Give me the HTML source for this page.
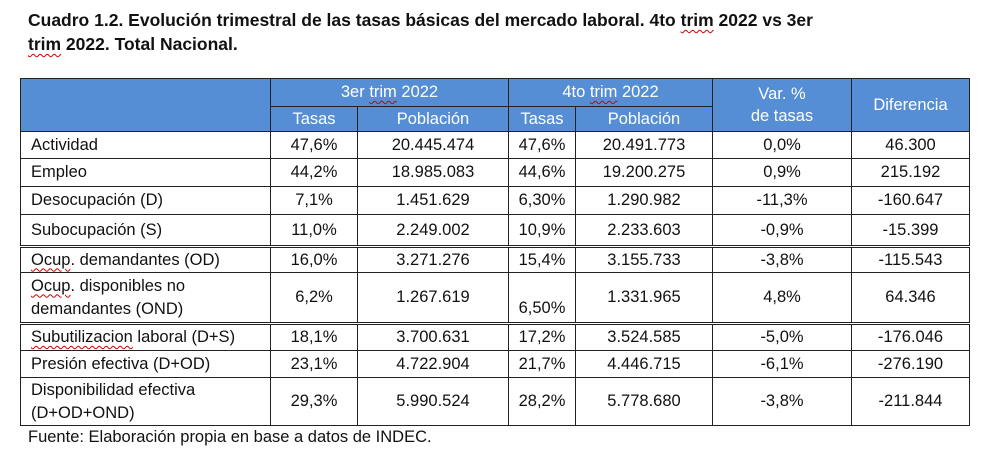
<!DOCTYPE html>
<html><head><meta charset="utf-8"><style>
body{margin:0;width:1000px;height:456px;background:#fff;font-family:"Liberation Sans",sans-serif;position:relative;overflow:hidden;color:#111}
.t{position:absolute;left:28px;font-weight:bold;font-size:17.5px;line-height:24px;top:8px;width:960px}
.w{text-decoration:underline wavy #c00;text-decoration-thickness:1px;text-underline-offset:3px}
table{position:absolute;left:20px;top:78px;border-collapse:collapse;font-size:16.5px;table-layout:fixed}
td{border:1px solid #222;text-align:center;padding:0;vertical-align:middle;white-space:nowrap}
td.l{text-align:left;padding-left:10px}
.h td{background:#558ed5;color:#fff;border-color:#222}
.dash{border-left:1px dashed #999}
.dbl td{border-bottom:3px double #222}
.f{position:absolute;left:28px;top:428px;font-size:16.5px}
</style></head><body>
<div class="t">Cuadro 1.2. Evolución trimestral de las tasas básicas del mercado laboral. 4to <span class="w">trim</span> 2022 vs 3er<br><span class="w">trim</span> 2022. Total Nacional.</div>
<table>
<colgroup><col style="width:250px"><col style="width:87px"><col style="width:151px"><col style="width:67px"><col style="width:137px"><col style="width:139px"><col style="width:118px"></colgroup>
<tr class="h" style="height:28px"><td rowspan="2"></td><td colspan="2">3er <span class="w">trim</span> 2022</td><td colspan="2">4to <span class="w">trim</span> 2022</td><td rowspan="2" style="line-height:22px">Var. %<br>de tasas</td><td rowspan="2">Diferencia</td></tr>
<tr class="h" style="height:25px"><td>Tasas</td><td>Población</td><td>Tasas</td><td>Población</td></tr>
<tr style="height:27px"><td class="l">Actividad</td><td class="dash">47,6%</td><td>20.445.474</td><td>47,6%</td><td>20.491.773</td><td>0,0%</td><td>46.300</td></tr>
<tr style="height:28px"><td class="l">Empleo</td><td class="dash">44,2%</td><td>18.985.083</td><td>44,6%</td><td>19.200.275</td><td>0,9%</td><td>215.192</td></tr>
<tr style="height:28px"><td class="l">Desocupación (D)</td><td class="dash">7,1%</td><td>1.451.629</td><td>6,30%</td><td>1.290.982</td><td>-11,3%</td><td>-160.647</td></tr>
<tr class="dbl" style="height:32px"><td class="l">Subocupación (S)</td><td class="dash">11,0%</td><td>2.249.002</td><td>10,9%</td><td>2.233.603</td><td>-0,9%</td><td>-15.399</td></tr>
<tr style="height:26px"><td class="l"><span class="w">Ocup</span>. demandantes (OD)</td><td class="dash">16,0%</td><td>3.271.276</td><td>15,4%</td><td>3.155.733</td><td>-3,8%</td><td>-115.543</td></tr>
<tr class="dbl" style="height:51px"><td class="l" style="line-height:23px"><span class="w">Ocup</span>. disponibles no<br>demandantes (OND)</td><td class="dash">6,2%</td><td>1.267.619</td><td style="vertical-align:bottom;padding-bottom:4px">6,50%</td><td>1.331.965</td><td>4,8%</td><td>64.346</td></tr>
<tr style="height:27px"><td class="l"><span class="w">Subutilizacion</span> laboral (D+S)</td><td class="dash">18,1%</td><td>3.700.631</td><td>17,2%</td><td>3.524.585</td><td>-5,0%</td><td>-176.046</td></tr>
<tr style="height:27px"><td class="l">Presión efectiva (D+OD)</td><td class="dash">23,1%</td><td>4.722.904</td><td>21,7%</td><td>4.446.715</td><td>-6,1%</td><td>-276.190</td></tr>
<tr style="height:48px"><td class="l" style="line-height:23px">Disponibilidad efectiva<br>(D+OD+OND)</td><td class="dash">29,3%</td><td>5.990.524</td><td>28,2%</td><td>5.778.680</td><td>-3,8%</td><td>-211.844</td></tr>
</table>
<div class="f">Fuente: Elaboración propia en base a datos de INDEC.</div>
</body></html>
